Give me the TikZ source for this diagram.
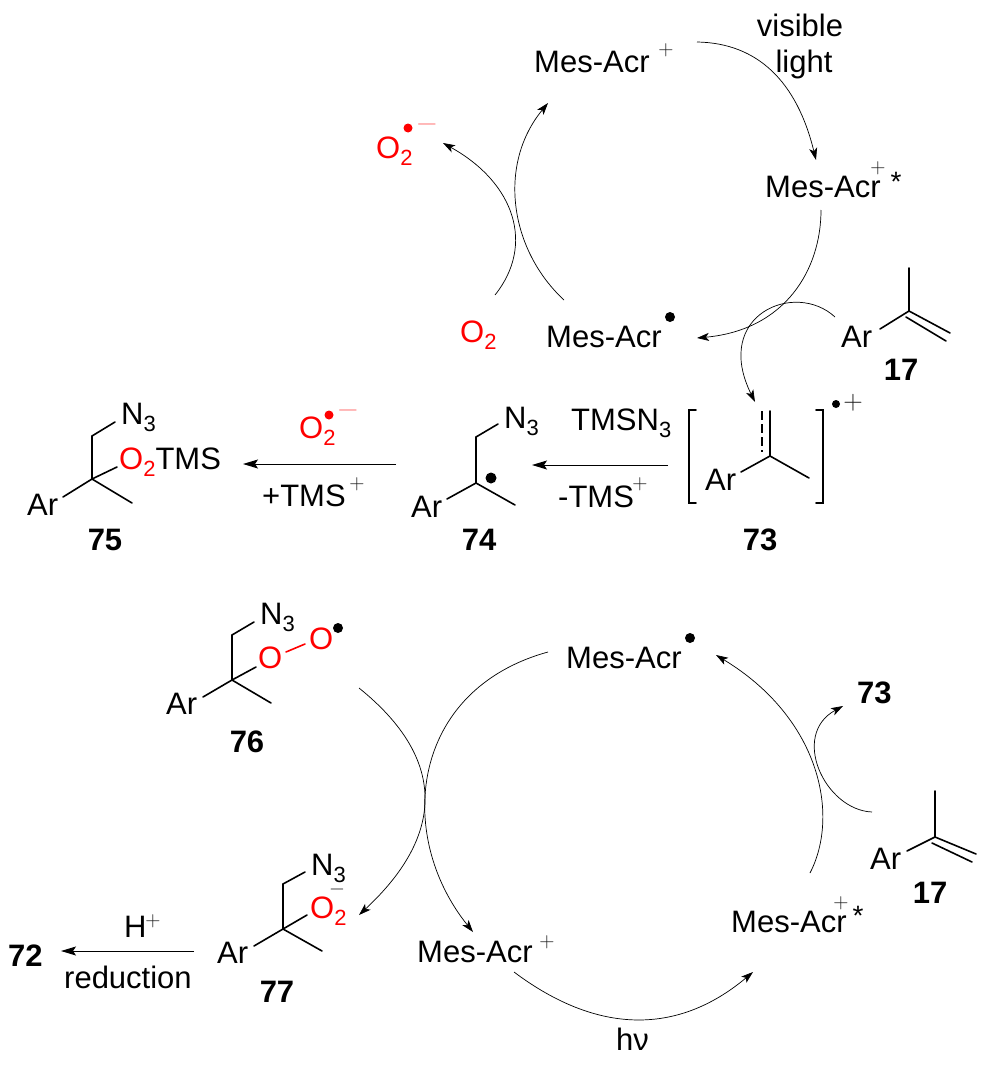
\documentclass[tikz,border=0pt]{standalone}
\usepackage{fontspec}
\setsansfont{Liberation Sans}
\usetikzlibrary{arrows.meta}
\definecolor{ored}{RGB}{255,0,0}
\definecolor{dashred}{RGB}{255,110,110}
\newcommand{\sbt}[1]{\raisebox{-7pt}{\fontsize{22}{22}\selectfont #1}}
\tikzset{
  lbl/.style={font=\sffamily\fontsize{31}{31}\selectfont,anchor=base west,inner sep=0pt,text=black},
  num/.style={font=\sffamily\bfseries\fontsize{31}{31}\selectfont,anchor=base west,inner sep=0pt,text=black},
  redlbl/.style={lbl,text=ored},
  plus/.style={font=\rmfamily\fontsize{21}{21}\selectfont,anchor=center,inner sep=0pt,text=black!90},
  bigplus/.style={plus,font=\rmfamily\fontsize{27}{27}\selectfont},
  star/.style={font=\sffamily\fontsize{28}{28}\selectfont,anchor=center,inner sep=0pt},
  minusred/.style={font=\rmfamily\fontsize{28}{28}\selectfont,anchor=center,inner sep=0pt,text=dashred},
  minusblk/.style={font=\rmfamily\fontsize{20}{20}\selectfont,anchor=center,inner sep=0pt,text=black},
  rad/.style={circle,fill=black,draw=none,inner sep=0pt,minimum size=10pt},
  radred/.style={rad,fill=ored,minimum size=9pt},
  bond/.style={line width=1.6pt,line cap=round},
  redbond/.style={bond,draw=ored},
  curve/.style={line width=0.7pt,-{Stealth[length=12pt,width=8pt,inset=3pt]}},
  straight/.style={line width=1pt,-{Stealth[length=15pt,width=9pt,inset=3pt]}},
}
\begin{document}
\begin{tikzpicture}[x=1pt,y=-1pt]
\useasboundingbox (0,0) rectangle (986,1068);
% ---------- upper cycle labels
\node[lbl] (acrA) at (534,72) {Mes-Acr};
\node[plus] (acrAp) at (666,50) {+};
\node[lbl,anchor=base] (vis) at (800,36) {visible};
\node[lbl,anchor=base] (lig) at (804,72) {light};
\node[lbl] (acrB) at (765,197) {Mes-Acr};
\node[plus] (acrBp) at (878,168) {+};
\node[star] (acrBs) at (896,182) {*};
\node[lbl] (acrC) at (546,347) {Mes-Acr};
\node[rad] (acrCd) at (670,317) {};
\node[redlbl] (o2a) at (460,342) {O\sbt{2}};
\node[redlbl] (o2b) at (376,158) {O\sbt{2}};
\node[radred] (o2bd) at (408,128) {};
\node[minusred] (o2bm) at (427,128) {−};
% ---------- upper cycle arrows
\coordinate (a1s) at (697,42); \coordinate (a1e) at (816,160);
\draw[curve] (a1s) .. controls (758,43) and (797,82) .. (a1e);
\coordinate (a2s) at (821,210); \coordinate (a2e) at (697,338);
\draw[curve] (a2s) .. controls (821,270) and (785,330) .. (a2e);
\coordinate (a3s) at (564,300); \coordinate (a3e) at (548,103);
\draw[curve] (a3s) .. controls (510,250) and (497,165) .. (a3e);
\coordinate (a4s) at (495,295); \coordinate (a4e) at (443,143);
\draw[curve] (a4s) .. controls (535,245) and (515,183) .. (a4e);
\coordinate (a5s) at (835,317); \coordinate (a5e) at (755,402);
\draw[curve] (a5s) .. controls (795,280) and (712,315) .. (a5e);
% ---------- 17 upper
\node[lbl] (ar17a) at (841,347) {Ar};
\node[num,anchor=base] (n17a) at (901,380) {17};
\coordinate (c17a) at (909,311); \coordinate (m17a) at (909,268);
\coordinate (b17a) at (880,329); \coordinate (d17a) at (950,333);
\coordinate (c17b) at (906,317); \coordinate (d17b) at (946,341);
\draw[bond] (b17a) -- (c17a) -- (m17a);
\draw[bond] (c17a) -- (d17a);
\draw[bond] (c17b) -- (d17b);
% ---------- 73
\coordinate (bl1) at (696,410); \coordinate (bl2) at (689,410); \coordinate (bl3) at (689,503); \coordinate (bl4) at (696,503);
\coordinate (br1) at (816,410); \coordinate (br2) at (823,410); \coordinate (br3) at (823,503); \coordinate (br4) at (816,503);
\draw[bond] (bl1) -- (bl2) -- (bl3) -- (bl4);
\draw[bond] (br1) -- (br2) -- (br3) -- (br4);
\node[rad,minimum size=8pt] (r73d) at (836,404) {};
\node[bigplus] (r73p) at (853,403) {+};
\coordinate (c73) at (770,456); \coordinate (t73) at (770,411);
\coordinate (dt73) at (762,411); \coordinate (dc73) at (762,452);
\coordinate (b73) at (741,472); \coordinate (m73) at (809,478);
\draw[bond] (b73) -- (c73) -- (m73);
\draw[bond] (c73) -- (t73);
\draw[line width=1.6pt,dash pattern=on 9pt off 4pt] (dt73) -- (dc73);
\node[lbl] (ar73) at (705,490) {Ar};
\node[num,anchor=base] (n73) at (760,550) {73};
% ---------- arrow 73->74
\coordinate (s1s) at (668,465); \coordinate (s1e) at (532,465);
\draw[straight] (s1s) -- (s1e);
\node[lbl] (tmsn) at (571,430) {TMSN\sbt{3}};
\node[lbl] (tmsm) at (558,507) {-TMS};
\node[plus] (tmsmp) at (640,484) {+};
% ---------- 74
\coordinate (c74) at (476,483); \coordinate (u74) at (476,437); \coordinate (n74) at (498,424);
\coordinate (b74) at (447,499); \coordinate (m74) at (515,505);
\draw[bond] (n74) -- (u74) -- (c74) -- (m74);
\draw[bond] (b74) -- (c74);
\node[lbl] (n3d) at (504,428) {N\sbt{3}};
\node[lbl] (ar74) at (411,517) {Ar};
\node[rad,minimum size=11pt] (r74) at (491,478) {};
\node[num,anchor=base] (n74l) at (479,550) {74};
% ---------- arrow 74->75
\coordinate (s2s) at (396,464); \coordinate (s2e) at (243,464);
\draw[straight] (s2s) -- (s2e);
\node[redlbl] (o2c) at (299,438) {O\sbt{2}};
\node[radred] (o2cd) at (329,415) {};
\node[minusred] (o2cm) at (348,414) {−};
\node[lbl] (tmsp) at (262,506) {+TMS};
\node[plus] (tmspp) at (357,484) {+};
% ---------- 75
\coordinate (c75) at (92,479); \coordinate (u75) at (92,436); \coordinate (n75) at (115,422);
\coordinate (b75) at (63,497); \coordinate (m75) at (132,503); \coordinate (o75) at (117,467);
\draw[bond] (n75) -- (u75) -- (c75) -- (m75);
\draw[bond] (b75) -- (c75) -- (o75);
\node[lbl] (n3c) at (121,424) {N\sbt{3}};
\node[lbl] (o2tms) at (119,469) {\textcolor{ored}{O\sbt{2}}TMS};
\node[lbl] (ar75) at (27,515) {Ar};
\node[num,anchor=base] (n75l) at (105,550) {75};
% ---------- 76
\coordinate (c76) at (232,680); \coordinate (u76) at (232,635); \coordinate (n76) at (254,622);
\coordinate (b76) at (203,697); \coordinate (m76) at (271,703); \coordinate (o76) at (256,667);
\coordinate (oo1) at (286,652); \coordinate (oo2) at (305,644);
\draw[bond] (n76) -- (u76) -- (c76) -- (m76);
\draw[bond] (b76) -- (c76) -- (o76);
\draw[redbond] (oo1) -- (oo2);
\node[lbl] (n3e) at (260,624) {N\sbt{3}};
\node[redlbl] (oa76) at (258,668) {O};
\node[redlbl] (ob76) at (309,649) {O};
\node[rad] (r76) at (338,628) {};
\node[lbl] (ar76) at (166,714) {Ar};
\node[num,anchor=base] (n76l) at (247,752) {76};
% ---------- 77
\coordinate (c77) at (283,929); \coordinate (u77) at (283,884); \coordinate (n77) at (305,872);
\coordinate (b77) at (254,946); \coordinate (m77) at (322,951); \coordinate (o77) at (307,915);
\draw[bond] (n77) -- (u77) -- (c77) -- (m77);
\draw[bond] (b77) -- (c77) -- (o77);
\node[lbl] (n3f) at (311,875) {N\sbt{3}};
\node[redlbl] (o2d) at (310,918) {O\sbt{2}};
\node[minusblk] (o2dm) at (337,892) {−};
\node[lbl] (ar77) at (217,963) {Ar};
\node[num,anchor=base] (n77l) at (277,1002) {77};
% ---------- 72
\node[num] (n72) at (8,966) {72};
\coordinate (s3s) at (194,951); \coordinate (s3e) at (61,951);
\draw[straight] (s3s) -- (s3e);
\node[lbl] (hp) at (124,937) {H};
\node[plus] (hpp) at (153,921) {+};
\node[lbl] (red) at (64,988) {reduction};
% ---------- lower cycle
\node[lbl] (acrD) at (566,668) {Mes-Acr};
\node[rad] (acrDd) at (690,638) {};
\node[lbl] (acrE) at (417,962) {Mes-Acr};
\node[plus] (acrEp) at (547,942) {+};
\node[lbl] (acrF) at (731,932) {Mes-Acr};
\node[plus] (acrFp) at (841,903) {+};
\node[star] (acrFs) at (858,916) {*};
\node[lbl] (hnu) at (616,1050) {hν};
\node[num] (n73b) at (857,703) {73};
\coordinate (b1s) at (359,688); \coordinate (b1e) at (359,915);
\draw[curve] (b1s) .. controls (446,758) and (446,834) .. (b1e);
\coordinate (b2s) at (548,652); \coordinate (b2e) at (473,932);
\draw[curve] (b2s) .. controls (410,690) and (395,835) .. (b2e);
\coordinate (b3s) at (514,972); \coordinate (b3e) at (753,972);
\draw[curve] (b3s) .. controls (598,1035) and (678,1035) .. (b3e);
\coordinate (b4s) at (810,873); \coordinate (b4e) at (716,655);
\draw[curve] (b4s) .. controls (840,815) and (820,718) .. (b4e);
\coordinate (b5s) at (872,812); \coordinate (b5e) at (843,706);
\draw[curve] (b5s) .. controls (825,810) and (790,735) .. (b5e);
% ---------- 17 lower
\node[lbl] (ar17b) at (870,869) {Ar};
\node[num,anchor=base] (n17b) at (930,903) {17};
\coordinate (c17c) at (935,837); \coordinate (m17c) at (935,791);
\coordinate (b17c) at (907,851); \coordinate (d17c) at (976,854);
\coordinate (c17d) at (932,843); \coordinate (d17d) at (972,862);
\draw[bond] (b17c) -- (c17c) -- (m17c);
\draw[bond] (c17c) -- (d17c);
\draw[bond] (c17d) -- (d17d);
\end{tikzpicture}
\end{document}
